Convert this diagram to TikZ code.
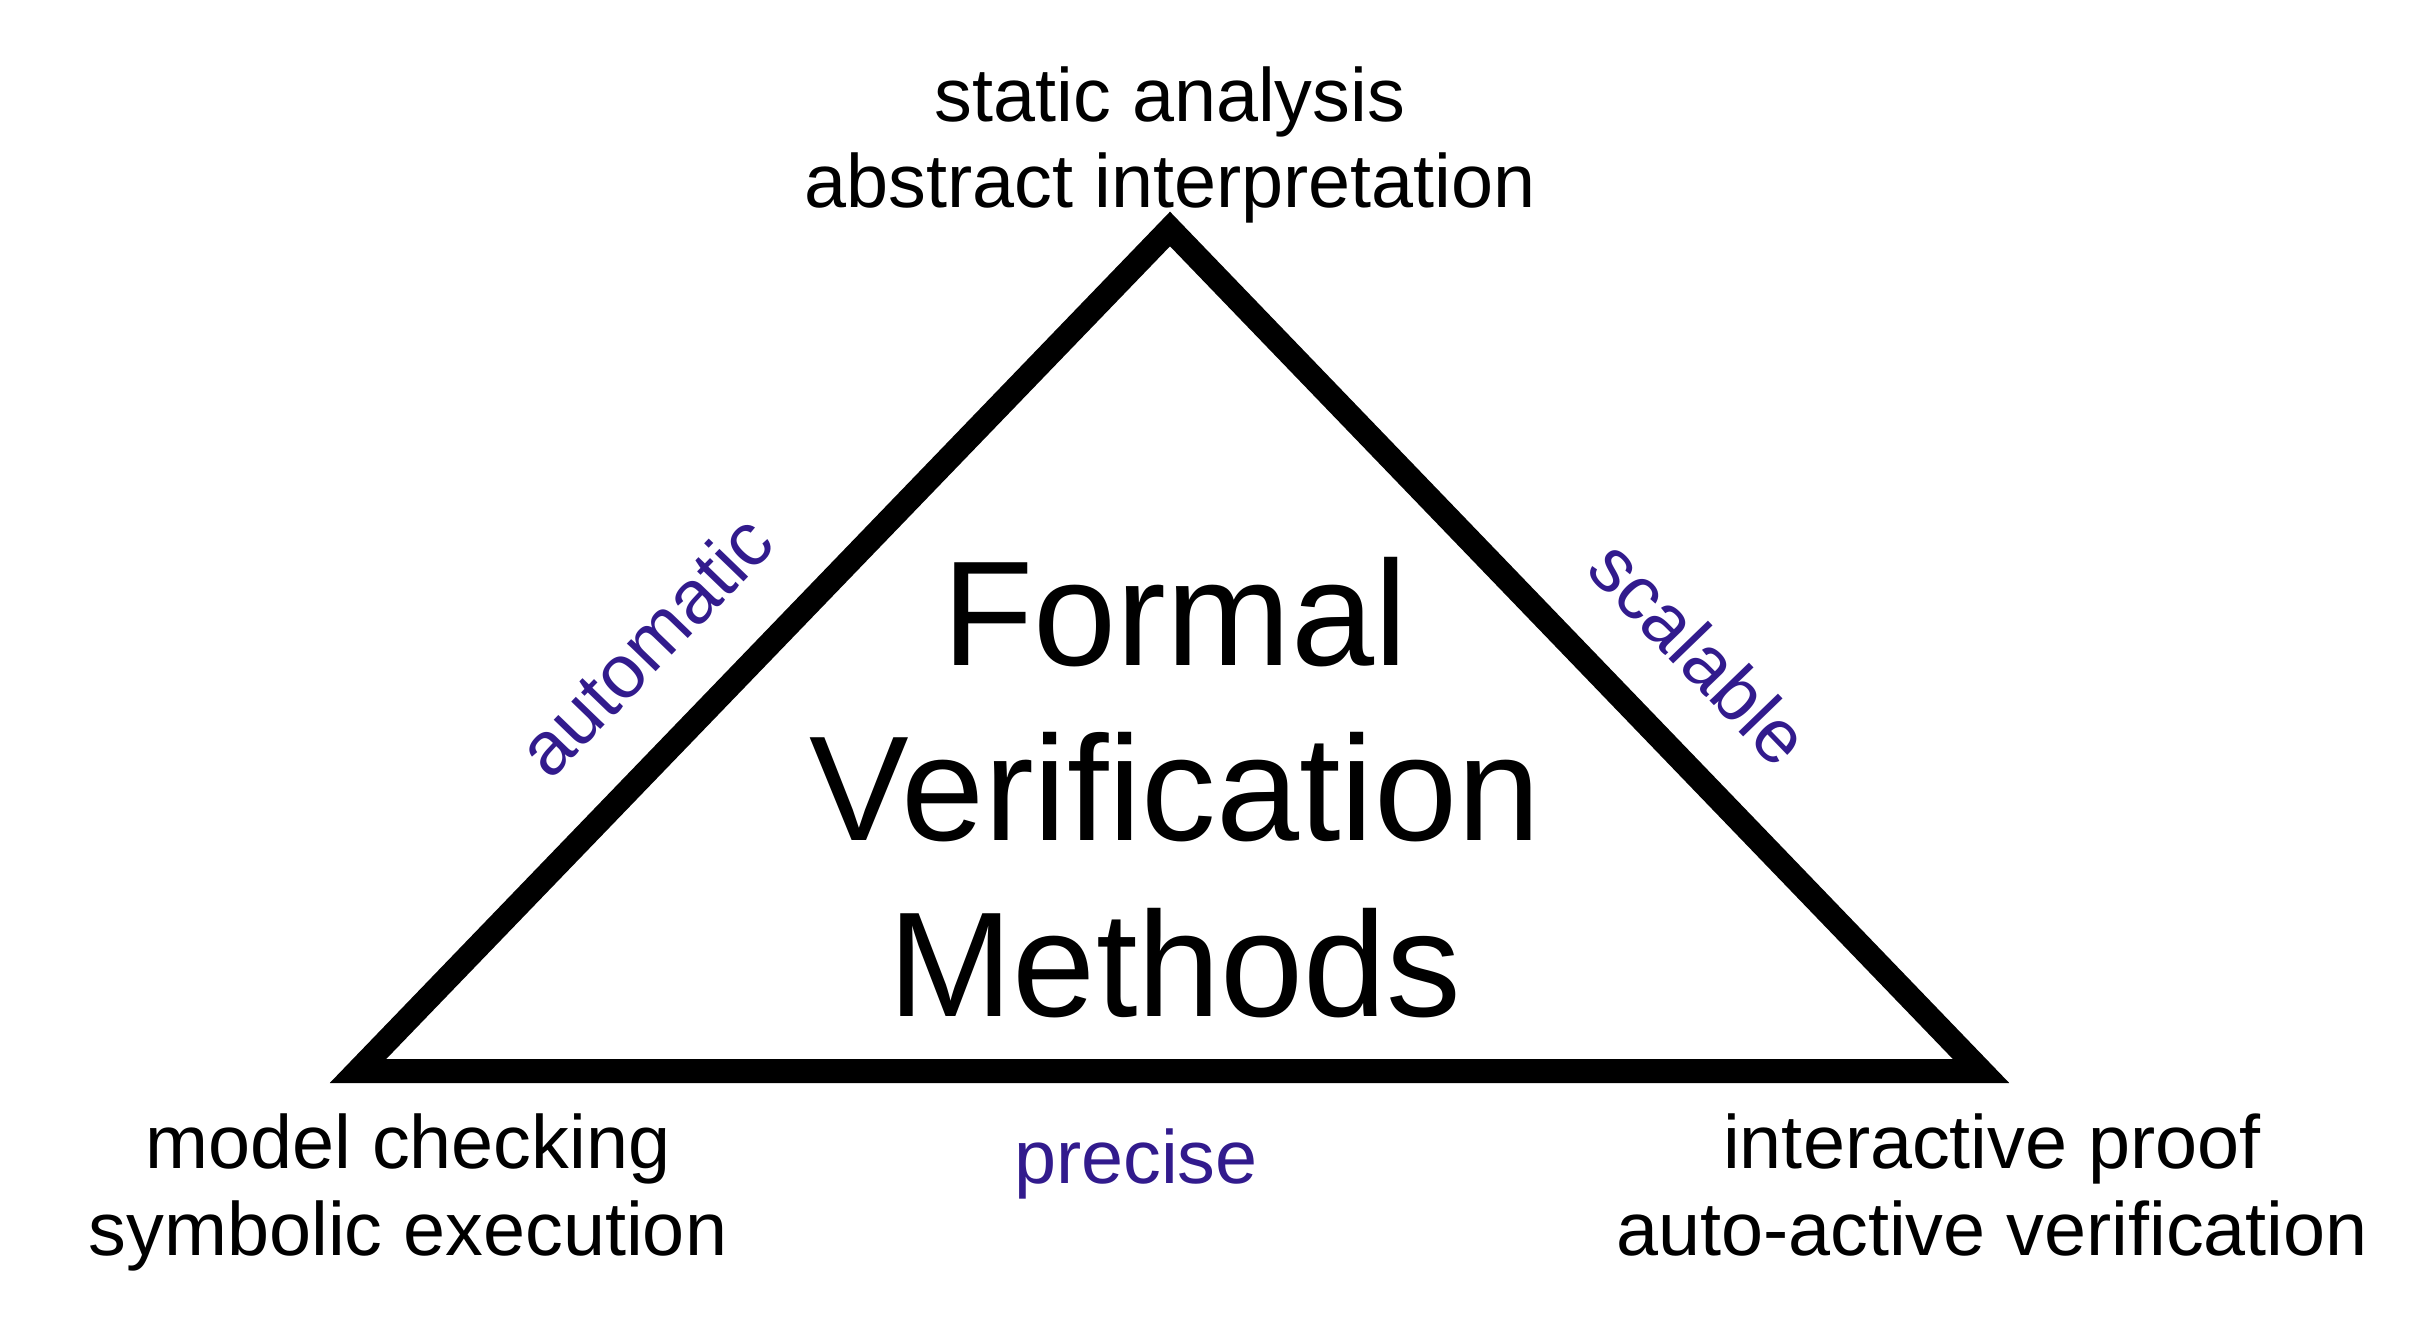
\documentclass[tikz,border=0pt]{standalone}
\usepackage{fontspec}
\setmainfont{Liberation Sans}
\definecolor{edgeblue}{RGB}{50,27,141}
\tikzset{
  cornerlabel/.style={align=center, inner sep=0pt, anchor=base,
    font=\fontsize{21.5}{24.6}\selectfont},
  sidelabel/.style={inner sep=0pt, text=edgeblue,
    font=\fontsize{21.5}{24.6}\selectfont},
  bigtitle/.style={align=center, inner sep=0pt, anchor=base,
    font=\fontsize{42.5}{49.8}\selectfont}
}
\begin{document}
\begin{tikzpicture}
  \useasboundingbox (0,0) rectangle (24.3,13.3);
  \coordinate (T) at (11.70,11.01);
  \coordinate (L) at (3.58,2.59);
  \coordinate (R) at (19.81,2.59);

  \draw [line width=0.24cm] (L) -- (T) -- (R) -- cycle;

  \node [bigtitle] (FV) at (11.75,3.14) {Formal\\Verification\\Methods};

  \node [cornerlabel] (SA) at (11.70,11.22) {static analysis\\abstract interpretation};
  \node [cornerlabel] (MC) at (4.08,0.75) {model checking\\symbolic execution};
  \node [cornerlabel] (IP) at (19.92,0.75) {interactive proof\\auto-active verification};

  \node [sidelabel, rotate=46] (AU) at (6.45,6.85) {automatic};
  \node [sidelabel, rotate=-46] (SC) at (17.00,6.78) {scalable};
  \node [sidelabel, anchor=base] (PR) at (11.36,1.47) {precise};
\end{tikzpicture}
\end{document}
